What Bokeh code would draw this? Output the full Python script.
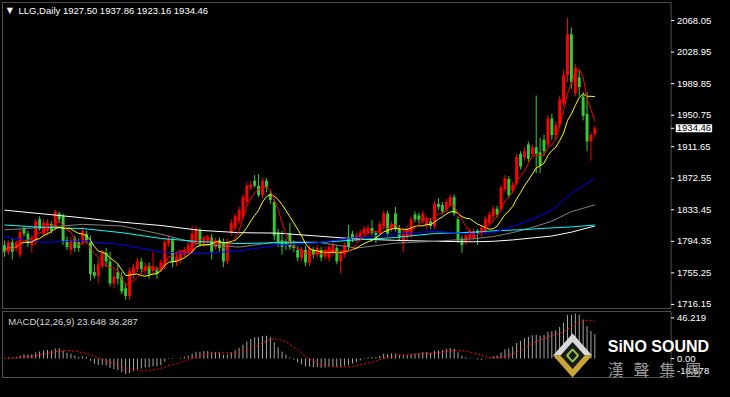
import numpy as np
import pandas as pd
from bokeh.plotting import figure
from bokeh.layouts import column
from bokeh.models import (ColumnDataSource, Range1d, Label, BoxAnnotation, GlobalInlineStyleSheet)
from bokeh.core.properties import value
from bokeh.embed import file_html
from bokeh.resources import INLINE

# ---------------- data ----------------
opens = [1789.6, 1781.3, 1793.2, 1786.0, 1777.7, 1809.8, 1803.9, 1789.6, 1793.2, 1821.7,
         1803.9, 1807.4, 1815.8, 1811.0, 1828.8, 1825.3, 1795.6, 1783.7, 1797.9, 1793.2,
         1793.2, 1803.9, 1793.2, 1756.3, 1751.6, 1763.4, 1780.1, 1769.4, 1742.1, 1756.3,
         1750.4, 1736.1, 1726.6, 1753.9, 1759.9, 1769.4, 1757.5, 1763.4, 1757.5, 1759.9,
         1759.9, 1763.4, 1792.0, 1795.6, 1768.2, 1771.8, 1777.7, 1781.3, 1781.3, 1793.2,
         1807.4, 1792.0, 1793.2, 1799.1, 1787.2, 1795.6, 1792.0, 1769.4, 1805.1, 1811.0,
         1819.3, 1825.3, 1843.1, 1861.0, 1869.3, 1863.3, 1851.4, 1869.3, 1852.6, 1843.1,
         1805.1, 1795.6, 1793.2, 1803.9, 1789.6, 1783.7, 1774.1, 1783.7, 1768.2, 1783.7,
         1777.7, 1783.7, 1775.3, 1774.1, 1780.1, 1786.0, 1769.4, 1777.7, 1799.1, 1803.9,
         1797.9, 1799.1, 1803.9, 1805.1, 1811.0, 1805.1, 1803.9, 1813.4, 1828.8, 1809.8,
         1828.8, 1811.0, 1792.0, 1799.1, 1801.5, 1827.7, 1826.5, 1819.3, 1813.4, 1819.3,
         1813.4, 1840.7, 1839.5, 1833.6, 1839.5, 1849.1, 1821.7, 1797.9, 1793.2, 1797.9,
         1798.5, 1807.4, 1803.9, 1807.4, 1817.0, 1825.3, 1834.8, 1834.8, 1858.6, 1871.6,
         1857.4, 1866.9, 1902.6, 1899.0, 1914.5, 1902.6, 1910.9, 1904.9, 1920.4, 1914.5,
         1946.6, 1926.3, 1938.2, 1965.6, 2000.1, 2051.2, 1977.5, 1997.7, 1973.9, 1952.5,
         1918.0, 1927.50]
highs = [1795.6, 1795.6, 1797.9, 1795.6, 1809.8, 1813.4, 1807.4, 1801.5, 1821.7, 1825.3,
         1821.7, 1821.7, 1819.3, 1833.6, 1831.2, 1828.8, 1800.3, 1800.3, 1801.5, 1797.9,
         1812.2, 1807.4, 1801.5, 1765.8, 1771.8, 1783.7, 1786.0, 1781.3, 1759.9, 1765.8,
         1756.3, 1742.1, 1762.3, 1765.8, 1774.1, 1774.1, 1768.2, 1768.2, 1781.3, 1763.4,
         1771.8, 1797.9, 1801.5, 1799.1, 1780.1, 1783.7, 1787.2, 1793.2, 1813.4, 1813.4,
         1811.0, 1801.5, 1802.7, 1803.9, 1799.1, 1799.1, 1797.9, 1797.9, 1821.7, 1828.8,
         1837.2, 1852.6, 1866.9, 1869.3, 1876.4, 1877.6, 1872.8, 1872.8, 1857.4, 1846.7,
         1809.8, 1807.4, 1797.9, 1817.0, 1795.6, 1788.4, 1787.2, 1788.4, 1789.6, 1787.2,
         1789.6, 1787.2, 1787.2, 1790.8, 1793.2, 1789.6, 1783.7, 1793.2, 1814.6, 1807.4,
         1805.1, 1808.6, 1813.4, 1814.6, 1820.5, 1807.4, 1819.3, 1832.4, 1832.4, 1819.3,
         1837.2, 1814.6, 1807.4, 1813.4, 1825.3, 1831.2, 1830.0, 1832.4, 1825.3, 1822.9,
         1844.3, 1847.9, 1843.1, 1846.7, 1852.6, 1852.6, 1825.3, 1801.5, 1805.1, 1811.0,
         1810.5, 1809.8, 1814.6, 1825.3, 1831.2, 1838.4, 1838.4, 1864.5, 1876.4, 1875.2,
         1868.1, 1902.6, 1906.1, 1910.9, 1918.0, 1914.5, 1975.1, 1922.8, 1926.3, 1951.3,
         1952.5, 1943.0, 1975.1, 2007.2, 2071.4, 2059.5, 2014.3, 2007.2, 1979.8, 1979.8,
         1929.9, 1937.86]
lows = [1775.3, 1777.7, 1771.8, 1781.3, 1774.1, 1800.3, 1787.2, 1780.1, 1789.6, 1807.4,
        1800.3, 1801.5, 1803.9, 1807.4, 1817.0, 1789.6, 1783.7, 1777.7, 1781.3, 1781.3,
        1789.6, 1792.0, 1745.6, 1748.0, 1742.1, 1759.9, 1762.3, 1738.5, 1736.1, 1740.9,
        1729.0, 1721.8, 1721.8, 1748.0, 1756.3, 1753.9, 1753.9, 1748.0, 1753.9, 1748.0,
        1756.3, 1759.9, 1787.2, 1762.3, 1763.4, 1767.0, 1774.1, 1777.7, 1777.7, 1789.6,
        1787.2, 1787.2, 1789.6, 1771.8, 1783.7, 1781.3, 1762.3, 1765.8, 1801.5, 1807.4,
        1815.8, 1821.7, 1839.5, 1857.4, 1861.0, 1849.1, 1847.9, 1855.0, 1840.7, 1795.6,
        1787.2, 1777.7, 1783.7, 1783.7, 1781.3, 1769.4, 1769.4, 1763.4, 1763.4, 1773.0,
        1774.1, 1769.4, 1771.8, 1769.4, 1776.5, 1765.8, 1753.9, 1774.1, 1783.7, 1793.2,
        1793.2, 1795.6, 1800.3, 1801.5, 1801.5, 1792.0, 1800.3, 1809.8, 1800.3, 1806.3,
        1806.3, 1795.6, 1781.3, 1795.6, 1797.9, 1818.1, 1817.0, 1815.8, 1809.8, 1809.8,
        1809.8, 1833.6, 1827.7, 1830.0, 1837.2, 1825.3, 1792.0, 1780.1, 1789.6, 1794.4,
        1795.0, 1789.6, 1800.3, 1803.9, 1813.4, 1821.7, 1824.1, 1831.2, 1855.0, 1847.9,
        1853.8, 1863.3, 1883.5, 1894.2, 1893.0, 1899.0, 1878.8, 1878.8, 1900.2, 1910.9,
        1920.4, 1920.4, 1934.7, 1962.0, 1991.7, 1983.4, 1973.9, 1973.9, 1944.2, 1906.1,
        1894.2, 1923.16]
closes = [1781.3, 1793.2, 1781.3, 1793.2, 1806.3, 1803.9, 1792.0, 1797.9, 1819.3, 1809.8,
          1817.0, 1817.0, 1807.4, 1831.2, 1821.7, 1793.2, 1787.2, 1795.6, 1786.0, 1786.0,
          1807.4, 1795.6, 1753.9, 1751.6, 1765.8, 1780.1, 1769.4, 1742.1, 1750.4, 1748.0,
          1732.5, 1726.6, 1757.5, 1762.3, 1769.4, 1759.9, 1763.4, 1753.9, 1763.4, 1753.9,
          1768.2, 1793.2, 1797.9, 1768.2, 1775.3, 1780.1, 1783.7, 1789.6, 1803.9, 1809.8,
          1792.0, 1797.9, 1799.1, 1781.3, 1795.6, 1786.0, 1769.4, 1793.2, 1817.0, 1825.3,
          1833.6, 1849.1, 1863.3, 1864.5, 1863.3, 1851.4, 1869.3, 1861.0, 1845.5, 1801.5,
          1792.0, 1787.2, 1789.6, 1787.2, 1786.0, 1774.1, 1783.7, 1768.2, 1786.0, 1777.7,
          1786.0, 1774.1, 1783.7, 1787.2, 1789.6, 1769.4, 1777.7, 1789.6, 1787.2, 1797.9,
          1801.5, 1805.1, 1809.8, 1811.0, 1805.1, 1799.1, 1815.8, 1828.8, 1803.9, 1815.8,
          1809.8, 1799.1, 1803.9, 1809.8, 1821.7, 1821.7, 1821.0, 1828.8, 1821.7, 1813.4,
          1840.7, 1837.2, 1831.2, 1843.1, 1849.1, 1828.8, 1795.6, 1789.6, 1801.5, 1807.4,
          1806.8, 1803.9, 1811.0, 1821.7, 1827.7, 1834.8, 1827.7, 1861.0, 1872.8, 1851.4,
          1864.5, 1899.0, 1887.1, 1906.1, 1896.6, 1910.9, 1902.6, 1888.3, 1906.1, 1946.6,
          1926.3, 1938.2, 1970.3, 2000.1, 2051.2, 1991.7, 2009.6, 1985.8, 1950.1, 1918.0,
          1926.3, 1934.46]

# slow moving averages at these bar indices
slow_idx = [0, 10, 20, 30, 40, 50, 60, 70, 80, 90, 100, 110, 120, 125, 130, 135, 140, 145, 151]
ma_white = [1833.0, 1828.3, 1823.5, 1818.1, 1814.0, 1808.0, 1805.1, 1804.5, 1800.9, 1797.3,
            1795.6, 1794.4, 1793.8, 1794.4, 1796.1, 1798.5, 1800.9, 1805.7, 1813.4]
ma_cyan = [1814.6, 1811.6, 1810.2, 1805.1, 1797.9, 1794.0, 1791.6, 1792.6, 1792.8, 1796.1,
           1799.1, 1804.1, 1805.7, 1807.4, 1808.3, 1809.5, 1811.0, 1812.2, 1814.6]
ma_gray = [1808.6, 1811.6, 1815.4, 1813.4, 1803.3, 1790.8, 1787.2, 1793.8, 1793.2, 1786.0,
           1792.0, 1794.4, 1797.6, 1800.3, 1805.1, 1811.6, 1819.3, 1831.2, 1839.5]
ma_blue = [1799.5, 1793.2, 1795.0, 1790.2, 1781.3, 1778.9, 1782.5, 1789.6, 1792.6, 1799.1,
           1803.3, 1806.8, 1803.3, 1805.1, 1812.8, 1821.7, 1833.0, 1853.8, 1872.8]

price_ticks = [1716.15, 1755.25, 1794.35, 1833.45, 1872.55, 1911.65, 1950.75, 1989.85, 2028.95, 2068.05]
price_tick_labels = ["1716.15", "1755.25", "1794.35", "1833.45", "1872.55",
                     "1911.65", "1950.75", "1989.85", "2028.95", "2068.05"]
macd_max, macd_min = 46.219, -18.578
macd_tick_pos = [40.0, 0.0, -12.0]
macd_tick_labels = ["46.219", "0.00", "-18.578"]
title_text = "LLG,Daily  1927.50 1937.86 1923.16 1934.46"
macd_text = "MACD(12,26,9) 23.648 36.287"
last_price = 1934.46
last_price_text = "1934.46"

# ---------------- derived series ----------------
df = pd.DataFrame(dict(x=np.arange(len(closes)), open=opens, high=highs, low=lows, close=closes))
df["top"] = df[["open", "close"]].max(axis=1)
df["bottom"] = df[["open", "close"]].min(axis=1)
df["color"] = np.where(df["close"] >= df["open"], "#FF0000", "#32CD32")
df["ma5"] = df["close"].rolling(5, min_periods=1).mean()
df["ma10"] = df["close"].rolling(10, min_periods=1).mean()
ema12 = df["close"].ewm(span=12, adjust=False).mean()
ema26 = df["close"].ewm(span=26, adjust=False).mean()
df["macd"] = ema12 - ema26
df["signal"] = df["macd"].rolling(9, min_periods=1).mean()
src = ColumnDataSource(df)
slow = ColumnDataSource(dict(x=slow_idx, white=ma_white, cyan=ma_cyan, gray=ma_gray, blue=ma_blue))

FONT = "Liberation Sans"
LBL = "9.5px"
X0, X1 = -0.5, 170.5            # chart box edges (bar units)
AX_TICK = 0.8                   # axis tick length (bar units)
AX_TXT = 172.0                  # axis label start

# ---------------- main price pane ----------------
p = figure(width=714, height=310, x_range=Range1d(-1.01, 181.6), y_range=Range1d(1708.6, 2092.9),
           output_backend="svg", toolbar_location=None, x_axis_location=None, y_axis_location=None,
           min_border=0, background_fill_color="black", border_fill_color="black",
           outline_line_color=None)
p.xgrid.visible = False
p.ygrid.visible = False
p.add_layout(BoxAnnotation(left=X0, right=X1, bottom=1711.1, top=2090.4, fill_color=None,
                           line_color="white", line_width=1))

p.segment(x0="x", y0="high", x1="x", y1="low", line_color="color", line_width=1, source=src)
p.vbar(x="x", width=0.75, top="top", bottom="bottom", fill_color="color", line_color=None, source=src)

p.line("x", "white", source=slow, line_color="#FFFFFF", line_width=1)
p.line("x", "gray", source=slow, line_color="#808080", line_width=1)
p.line("x", "cyan", source=slow, line_color="#00FFFF", line_width=1)
p.line("x", "blue", source=slow, line_color="#0000FF", line_width=1)
p.line("x", "ma10", source=src, line_color="#FFFF00", line_width=1)
p.line("x", "ma5", source=src, line_color="#FF0000", line_width=1)

# right price scale
tick_src = ColumnDataSource(dict(y=price_ticks, t=price_tick_labels))
p.segment(x0=X1, x1=X1 + AX_TICK, y0="y", y1="y", source=tick_src, line_color="white", line_width=1)
p.text(x=AX_TXT, y="y", text="t", source=tick_src, text_color="white", text_font=value(FONT),
       text_font_size=LBL, text_baseline="middle", text_align="left")
p.segment(x0=[X1], x1=[X1 + AX_TICK], y0=[last_price], y1=[last_price], line_color="white")
p.add_layout(Label(x=AX_TXT - 0.3, y=last_price, text=last_price_text, text_color="black",
                   text_font=FONT, text_font_size=LBL, text_baseline="middle",
                   background_fill_color="white", padding=1))

p.add_layout(Label(x=0.6, y=2080.5, text="▼", text_color="white", text_font="DejaVu Sans",
                   text_font_size="8px", text_baseline="middle"))
p.add_layout(Label(x=3.6, y=2080.0, text=title_text, text_color="white", text_font=FONT,
                   text_font_size=LBL, text_baseline="middle"))

# ---------------- MACD pane ----------------
m = figure(width=714, height=71, x_range=p.x_range, y_range=Range1d(-22.5, 47.2),
           output_backend="svg", toolbar_location=None, x_axis_location=None, y_axis_location=None,
           min_border=0, background_fill_color="black", border_fill_color="black",
           outline_line_color=None)
m.xgrid.visible = False
m.ygrid.visible = False
m.add_layout(BoxAnnotation(left=X0, right=X1, bottom=macd_min, top=macd_max, fill_color=None,
                           line_color="white", line_width=1))

m.vbar(x="x", top="macd", bottom=0, width=0.22, fill_color="#C0C0C0", line_color=None, source=src)
m.line("x", "signal", source=src, line_color="#FF0000", line_width=1, line_dash="2 2")

mtick_src = ColumnDataSource(dict(y=macd_tick_pos, t=macd_tick_labels))
m.segment(x0=X1, x1=X1 + AX_TICK, y0="y", y1="y", source=mtick_src, line_color="white", line_width=1)
m.text(x=AX_TXT, y="y", text="t", source=mtick_src, text_color="white", text_font=value(FONT),
       text_font_size=LBL, text_baseline="middle", text_align="left")

m.add_layout(Label(x=1.0, y=36.5, text=macd_text, text_color="#D8D8D8", text_font=FONT,
                   text_font_size=LBL, text_baseline="middle"))

# watermark logo (decoration)
cx, cy, hw, hh = 145.3, 3.0, 5.0, 21.5
m.patch([cx - hw, cx, cx + hw], [cy, cy + hh, cy], fill_color="#D8D8D8", line_color=None)
m.patch([cx - hw, cx, cx + hw], [cy, cy - hh, cy], fill_color="#C9A436", line_color=None)
m.patch([cx - hw * 0.62, cx, cx + hw * 0.62, cx], [cy, cy + hh * 0.62, cy, cy - hh * 0.62],
        fill_color="#1A1A1A", line_color=None)
m.patch([cx - hw * 0.28, cx, cx + hw * 0.28, cx], [cy, cy + hh * 0.28, cy, cy - hh * 0.28],
        fill_color=None, line_color="#8BC34A", line_width=2)
m.add_layout(Label(x=154.3, y=12.0, text="SiNO SOUND", text_color="white", text_font=FONT,
                   text_font_style="bold", text_font_size="16px", text_baseline="middle"))
for k, ch in enumerate(["漢", "聲", "集", "團"]):
    m.add_layout(Label(x=154.3 + k * 6.6, y=-10.0, text=ch, text_color="#9A9A9A",
                       text_font="Noto Sans CJK TC", text_font_size="16px", text_baseline="middle"))

layout = column(p, m, spacing=0,
                stylesheets=[GlobalInlineStyleSheet(css="html, body { background: #000000; }")])

open("out.html", "w").write(file_html(layout, INLINE))
